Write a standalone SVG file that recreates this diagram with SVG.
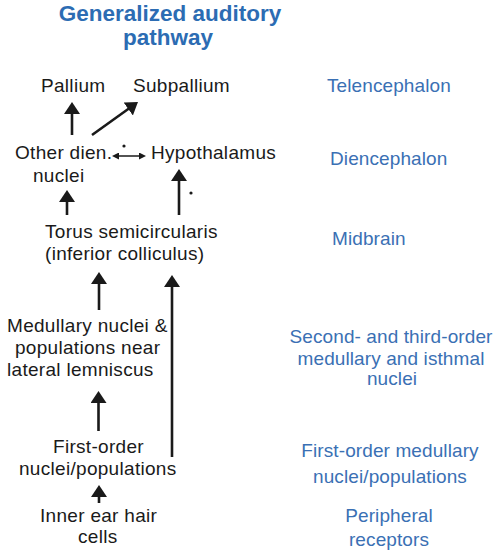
<svg xmlns="http://www.w3.org/2000/svg" width="500" height="556" viewBox="0 0 500 556">
<style>
.t{font-family:"Liberation Sans",Arial,sans-serif;font-size:19px;letter-spacing:0.3px;fill:#1a1a1a}
.b{font-family:"Liberation Sans",Arial,sans-serif;font-size:19px;letter-spacing:0.1px;fill:#3a70b4}
.ttl{font-family:"Liberation Sans",Arial,sans-serif;font-size:22.5px;font-weight:bold;fill:#2c6cb3;text-anchor:middle}
.m{text-anchor:middle}
.a{stroke:#1a1a1a;stroke-width:2.6;fill:none;marker-end:url(#ah)}
.d{stroke:#1a1a1a;stroke-width:1.5;fill:none;marker-start:url(#sh);marker-end:url(#sh)}
</style>
<defs>
<marker id="ah" markerUnits="userSpaceOnUse" markerWidth="13" markerHeight="16" refX="6" refY="8" orient="auto" viewBox="0 0 13 16">
<path d="M0,0 L12,8 L0,16 z" fill="#1a1a1a"/>
</marker>
<marker id="sh" markerUnits="userSpaceOnUse" markerWidth="7" markerHeight="7" refX="3" refY="3.5" orient="auto-start-reverse" viewBox="0 0 7 7">
<path d="M0,0 L7,3.5 L0,7 z" fill="#1a1a1a"/>
</marker>
</defs>
<rect width="500" height="556" fill="#ffffff"/>
<g id="title">
<text class="ttl" x="170" y="21">Generalized auditory</text>
<text class="ttl" x="168" y="45">pathway</text>
</g>
<g id="connectors">
<line class="a" x1="72" y1="135" x2="72" y2="108"/>
<line class="a" x1="92" y1="135" x2="133.1" y2="105.5"/>
<line class="d" x1="116" y1="156" x2="142" y2="156"/>
<line class="a" x1="67" y1="215" x2="67" y2="196"/>
<line class="a" x1="179" y1="215" x2="179" y2="175"/>
<line class="a" x1="99" y1="310" x2="99" y2="278"/>
<line class="a" x1="172" y1="457" x2="172" y2="281"/>
<line class="a" x1="98.5" y1="431" x2="98.5" y2="397"/>
<line class="a" x1="99" y1="503" x2="99" y2="491"/>
<circle cx="124" cy="146" r="1.6" fill="#1a1a1a"/>
<circle cx="191" cy="193" r="1.6" fill="#1a1a1a"/>
</g>
<g id="pallium"><text class="t" x="41" y="92">Pallium</text></g>
<g id="subpallium"><text class="t" x="133" y="92">Subpallium</text></g>
<g id="other-dien"><text class="t" x="15" y="159">Other dien.</text><text class="t" x="33" y="182">nuclei</text></g>
<g id="hypothalamus"><text class="t" x="151" y="159">Hypothalamus</text></g>
<g id="torus"><text class="t" x="45" y="238">Torus semicircularis</text><text class="t" x="45" y="260">(inferior colliculus)</text></g>
<g id="medullary"><text class="t" x="7" y="332">Medullary nuclei &amp;</text><text class="t" x="15" y="354">populations near</text><text class="t" x="7" y="376">lateral lemniscus</text></g>
<g id="first-order"><text class="t" x="53" y="453">First-order</text><text class="t" x="19" y="475">nuclei/populations</text></g>
<g id="inner-ear"><text class="t" x="40" y="522">Inner ear hair</text><text class="t" x="78" y="543">cells</text></g>
<g id="levels">
<text class="b" x="327" y="92">Telencephalon</text>
<text class="b" x="330" y="165">Diencephalon</text>
<text class="b" x="332" y="245">Midbrain</text>
<text class="b m" x="391" y="343">Second- and third-order</text>
<text class="b m" x="391" y="365">medullary and isthmal</text>
<text class="b m" x="392" y="385">nuclei</text>
<text class="b m" x="390" y="457">First-order medullary</text>
<text class="b m" x="390" y="483">nuclei/populations</text>
<text class="b m" x="389" y="522">Peripheral</text>
<text class="b m" x="389" y="546">receptors</text>
</g>
</svg>
